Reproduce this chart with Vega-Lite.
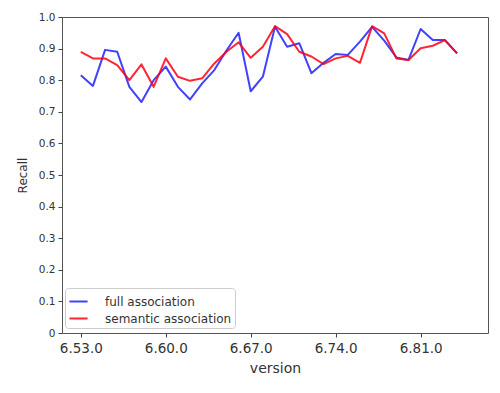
{
  "$schema": "https://vega.github.io/schema/vega-lite/v6.json",
  "width": 426,
  "height": 316,
  "autosize": {"type": "none"},
  "padding": {"left": 62, "top": 17, "right": 12, "bottom": 60},
  "background": "white",
  "config": {
    "view": {"stroke": "#555", "strokeWidth": 1},
    "font": "DejaVu Sans",
    "axis": {"domain": false, "grid": false, "tickColor": "#444", "tickSize": 4, "labelColor": "#333", "titleColor": "#333", "titleFontWeight": "normal", "labelFont": "DejaVu Sans", "titleFont": "DejaVu Sans"}
  },
  "data": {
    "values": [
      {"v": 53, "series": "full association", "recall": 0.816},
      {"v": 54, "series": "full association", "recall": 0.782},
      {"v": 55, "series": "full association", "recall": 0.896},
      {"v": 56, "series": "full association", "recall": 0.89},
      {"v": 57, "series": "full association", "recall": 0.779},
      {"v": 58, "series": "full association", "recall": 0.731},
      {"v": 59, "series": "full association", "recall": 0.8},
      {"v": 60, "series": "full association", "recall": 0.843},
      {"v": 61, "series": "full association", "recall": 0.779},
      {"v": 62, "series": "full association", "recall": 0.739},
      {"v": 63, "series": "full association", "recall": 0.79},
      {"v": 64, "series": "full association", "recall": 0.832},
      {"v": 65, "series": "full association", "recall": 0.894},
      {"v": 66, "series": "full association", "recall": 0.95},
      {"v": 67, "series": "full association", "recall": 0.765},
      {"v": 68, "series": "full association", "recall": 0.811},
      {"v": 69, "series": "full association", "recall": 0.969},
      {"v": 70, "series": "full association", "recall": 0.906},
      {"v": 71, "series": "full association", "recall": 0.917},
      {"v": 72, "series": "full association", "recall": 0.822},
      {"v": 73, "series": "full association", "recall": 0.855},
      {"v": 74, "series": "full association", "recall": 0.883},
      {"v": 75, "series": "full association", "recall": 0.88},
      {"v": 76, "series": "full association", "recall": 0.922},
      {"v": 77, "series": "full association", "recall": 0.969},
      {"v": 78, "series": "full association", "recall": 0.925},
      {"v": 79, "series": "full association", "recall": 0.872},
      {"v": 80, "series": "full association", "recall": 0.864},
      {"v": 81, "series": "full association", "recall": 0.962},
      {"v": 82, "series": "full association", "recall": 0.927},
      {"v": 83, "series": "full association", "recall": 0.927},
      {"v": 84, "series": "full association", "recall": 0.885},
      {"v": 53, "series": "semantic association", "recall": 0.89},
      {"v": 54, "series": "semantic association", "recall": 0.869},
      {"v": 55, "series": "semantic association", "recall": 0.869},
      {"v": 56, "series": "semantic association", "recall": 0.848},
      {"v": 57, "series": "semantic association", "recall": 0.8},
      {"v": 58, "series": "semantic association", "recall": 0.85},
      {"v": 59, "series": "semantic association", "recall": 0.779},
      {"v": 60, "series": "semantic association", "recall": 0.869},
      {"v": 61, "series": "semantic association", "recall": 0.811},
      {"v": 62, "series": "semantic association", "recall": 0.798},
      {"v": 63, "series": "semantic association", "recall": 0.806},
      {"v": 64, "series": "semantic association", "recall": 0.853},
      {"v": 65, "series": "semantic association", "recall": 0.89},
      {"v": 66, "series": "semantic association", "recall": 0.92},
      {"v": 67, "series": "semantic association", "recall": 0.871},
      {"v": 68, "series": "semantic association", "recall": 0.906},
      {"v": 69, "series": "semantic association", "recall": 0.971},
      {"v": 70, "series": "semantic association", "recall": 0.946},
      {"v": 71, "series": "semantic association", "recall": 0.89},
      {"v": 72, "series": "semantic association", "recall": 0.875},
      {"v": 73, "series": "semantic association", "recall": 0.851},
      {"v": 74, "series": "semantic association", "recall": 0.869},
      {"v": 75, "series": "semantic association", "recall": 0.877},
      {"v": 76, "series": "semantic association", "recall": 0.855},
      {"v": 77, "series": "semantic association", "recall": 0.971},
      {"v": 78, "series": "semantic association", "recall": 0.948},
      {"v": 79, "series": "semantic association", "recall": 0.869},
      {"v": 80, "series": "semantic association", "recall": 0.864},
      {"v": 81, "series": "semantic association", "recall": 0.901},
      {"v": 82, "series": "semantic association", "recall": 0.909},
      {"v": 83, "series": "semantic association", "recall": 0.927},
      {"v": 84, "series": "semantic association", "recall": 0.885}
    ]
  },
  "mark": {"type": "line", "strokeWidth": 2, "opacity": 0.85, "strokeJoin": "round"},
  "encoding": {
    "x": {
      "field": "v", "type": "quantitative",
      "scale": {"domain": [51.45, 86.55], "nice": false, "zero": false},
      "axis": {"title": "version", "values": [53, 60, 67, 74, 81], "labelExpr": "'6.' + datum.value + '.0'", "labelFontSize": 13.5, "titleFontSize": 14, "labelPadding": 4, "titlePadding": 7}
    },
    "y": {
      "field": "recall", "type": "quantitative",
      "scale": {"domain": [0, 1], "nice": false},
      "axis": {"title": "Recall", "values": [0, 0.1, 0.2, 0.3, 0.4, 0.5, 0.6, 0.7, 0.8, 0.9, 1.0], "labelExpr": "datum.value == 0 ? '0' : format(datum.value, '.1f')", "labelFontSize": 10.5, "titleFontSize": 12, "labelPadding": 3, "titlePadding": 9}
    },
    "color": {
      "field": "series", "type": "nominal",
      "scale": {"domain": ["full association", "semantic association"], "range": ["#2020ff", "#ff0010"]},
      "legend": {"title": null, "orient": "none", "legendX": 3, "legendY": 271, "symbolType": "stroke", "symbolSize": 330, "symbolStrokeWidth": 2, "labelFontSize": 12, "labelColor": "#333", "fillColor": "white", "strokeColor": "#ccc", "padding": 3, "cornerRadius": 3, "rowPadding": 0, "labelOffset": 16, "offset": 0}
    }
  }
}
